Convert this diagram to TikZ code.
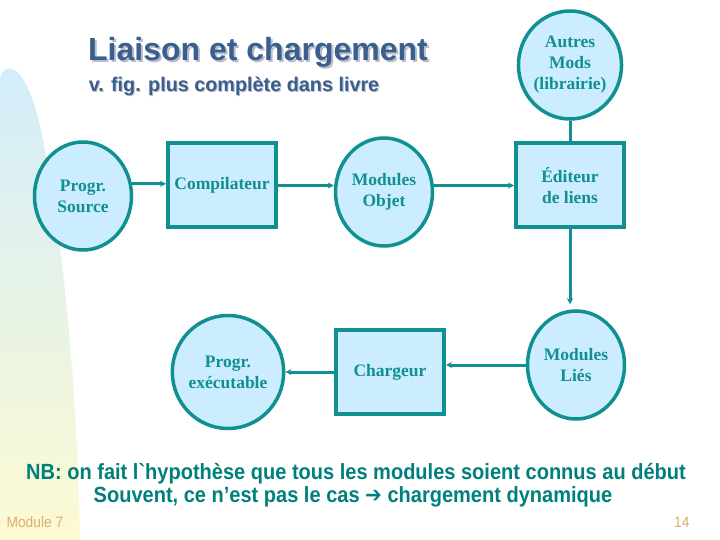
\documentclass[tikz,border=0pt]{standalone}
\usepackage{fontspec}
\usepackage{graphicx}
\setmainfont{Liberation Serif}
\newfontfamily\arialf{Liberation Sans}
\newfontfamily\symf{DejaVu Sans}
\usetikzlibrary{shapes.geometric,arrows.meta}
\definecolor{teal1}{RGB}{16,144,144}
\definecolor{fillb}{RGB}{204,236,255}
\definecolor{titleb}{RGB}{58,94,142}
\definecolor{shad}{RGB}{185,190,200}
\definecolor{nbteal}{RGB}{0,128,124}
\definecolor{tan1}{RGB}{222,172,112}
\definecolor{blobtop}{RGB}{210,236,252}
\definecolor{blobbot}{RGB}{252,250,210}
\tikzset{
  ell/.style={ellipse,draw=teal1,line width=3.5pt,fill=fillb,inner sep=0pt,
    minimum width=97pt,minimum height=108pt,align=center,text=teal1,
    font=\fontsize{17.5}{21}\selectfont\bfseries},
  boxn/.style={rectangle,draw=teal1,line width=4pt,fill=fillb,inner sep=0pt,
    minimum width=108pt,minimum height=84pt,align=center,text=teal1,
    font=\fontsize{17.5}{21}\selectfont\bfseries},
  conn/.style={draw=teal1,line width=3pt},
  arr/.style={conn,-{Stealth[length=6pt,width=6pt]}},
}
\begin{document}
\begin{tikzpicture}[x=1pt,y=-1pt]
\useasboundingbox (0,0) rectangle (720,540);
\fill[white] (0,0) rectangle (720,540);
% decorative blob
\shade[top color=blobtop,bottom color=blobbot]
  (0,78) .. controls (4,62) and (26,58) .. (42,135)
  .. controls (62,235) and (77,380) .. (80,540) -- (0,540) -- cycle;
% title
\node[anchor=center,text=shad,font=\arialf\bfseries\fontsize{32}{36}\selectfont] at (260,54) {Liaison et chargement};
\node[anchor=center,text=titleb,font=\arialf\bfseries\fontsize{32}{36}\selectfont] (title) at (258,52) {Liaison et chargement};
\node[anchor=center,text=shad,font=\arialf\bfseries\fontsize{19.8}{22}\selectfont] at (235,87) {v. fig. plus complète dans livre};
\node[anchor=center,text=titleb,font=\arialf\bfseries\fontsize{19.8}{22}\selectfont] (sub) at (234,86) {v. fig. plus complète dans livre};
% nodes
\node[ell] (autres) at (570,65) {Autres\\Mods\\(librairie)};
\node[ell] (src) at (83,196) {Progr.\\Source};
\node[boxn] (comp) at (222,185.5) {Compilateur};
\node[ell] (obj) at (384,192) {Modules\\Objet};
\node[boxn] (edit) at (570,185.5) {Éditeur\\de liens};
\node[ell,minimum width=100pt,minimum height=113pt] (exec) at (228,372) {Progr.\\exécutable};
\node[boxn] (charg) at (390,372) {Chargeur};
\node[ell] (lies) at (576,365) {Modules\\Liés};
% connectors
\draw[arr] (src.14) -- (src.14 -| comp.west);
\draw[arr] (comp.east) -- (comp.east -| obj.west);
\draw[arr] (edit.west -| obj.east) -- (edit.west);
\draw[conn] (autres.south) -- (edit.north);
\draw[arr,shorten >=5pt] (edit.south) -- (edit.south |- lies.north);
\draw[arr] (lies.west) -- (lies.west -| charg.east);
\draw[arr] (charg.west) -- (charg.west -| exec.east);
% notes
\node[anchor=center,text=nbteal,font=\arialf\bfseries\fontsize{22}{26}\selectfont] (nb1) at (356,474) {\scalebox{0.91}[1]{NB: on fait l`hypothèse que tous les modules soient connus au début}};
\node[anchor=center,text=nbteal,font=\arialf\bfseries\fontsize{22}{26}\selectfont] (nb2) at (353,497) {\scalebox{0.91}[1]{Souvent, ce n’est pas le cas {\symf\bfseries ➔} chargement dynamique}};
\node[anchor=west,text=tan1,font=\arialf\fontsize{15}{17}\selectfont] (mod) at (3,522) {\scalebox{0.92}[1]{Module 7}};
\node[anchor=east,text=tan1,font=\arialf\fontsize{15}{17}\selectfont] (pg) at (693,522) {\scalebox{0.92}[1]{14}};
\end{tikzpicture}
\end{document}
